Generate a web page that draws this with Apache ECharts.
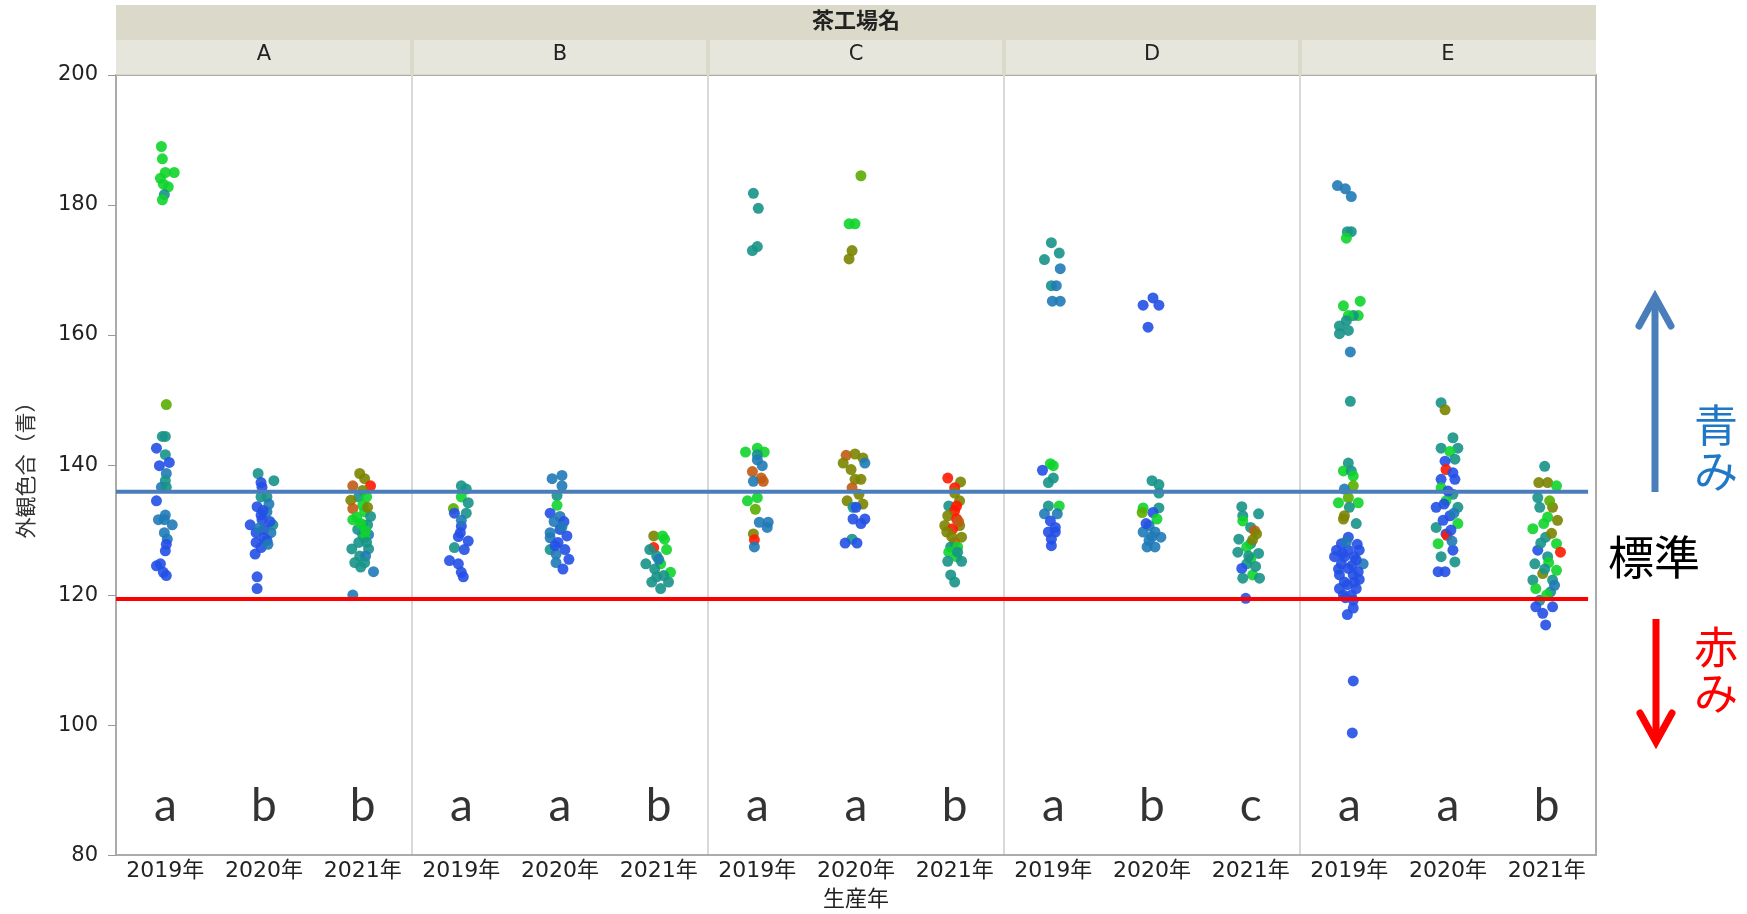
<!DOCTYPE html>
<html><head><meta charset="utf-8">
<script src="https://cdn.jsdelivr.net/npm/echarts@6/dist/echarts.min.js"></script>
<style>html,body{margin:0;padding:0;background:#fff}#c{width:1747px;height:914px}</style>
</head><body><div id="c"></div>
<script>
// ---------- data ----------
const factories = ['A','B','C','D','E'];
const years = ['2019年','2020年','2021年'];
const sigLetters = ['a','b','b','a','a','b','a','a','b','a','b','c','a','a','b'];
const yMin = 80, yMax = 200, yStep = 20;
const blueStd = 135.9, redStd = 119.4;
// colour codes (blue -> teal -> green -> olive -> red)
const B=0,S=1,T=2,G=3,Y=4,O=5,R=6,X=7;
const palette = ['#2450e6','#1f7ab6','#179488','#10d42c','#5aae00','#7c8400','#c25a12','#ff1a00'];
// each point: [jitter offset, value, colour code]
const A19 = [[-0.04,189.0,G],[-0.03,187.1,G],[0.0,185.0,G],[0.09,185.0,G],[-0.05,184.1,G],[-0.02,183.2,G],[0.03,182.8,G],[-0.01,181.6,T],[-0.03,180.8,G],
 [0.01,149.3,Y],[-0.03,144.4,T],[0.0,144.4,T],[-0.09,142.6,B],[0.0,141.6,T],[0.04,140.4,B],[-0.06,139.9,B],[0.01,138.7,S],[0.0,137.6,T],[-0.04,136.6,S],[0.01,136.6,T],
 [-0.09,134.5,B],[0.0,132.3,S],[-0.07,131.6,S],[-0.01,131.6,S],[0.07,130.8,S],[-0.01,129.6,S],[0.02,128.6,S],[0.01,127.8,B],[0.0,126.8,B],[-0.09,124.5,B],[-0.05,124.8,B],[-0.02,123.5,B],[0.01,123.0,B]];
const A20 = [[-0.06,138.7,T],[0.10,137.6,T],[-0.03,137.3,B],[-0.02,136.6,B],[-0.03,135.1,T],[0.03,135.1,T],[-0.07,133.6,B],[0.03,132.8,S],[-0.03,132.3,B],[-0.02,131.6,B],
 [-0.14,130.8,B],[0.09,130.8,T],[0.0,130.1,B],[-0.08,129.6,B],[0.07,129.6,S],[0.0,128.8,B],[-0.08,128.1,B],[-0.03,127.3,B],[-0.09,126.3,B],[-0.07,122.8,B],[-0.07,121.0,B],
 [0.05,134.0,S],[-0.01,133.0,B],[0.06,131.3,B],[-0.05,130.3,S],[0.03,128.4,B],[0.04,127.8,S]];
const A21 = [[-0.03,138.7,O],[0.02,137.9,O],[-0.10,136.8,R],[0.08,136.8,X],[0.0,136.1,O],[-0.04,135.1,T],[0.04,135.1,G],[-0.12,134.6,O],[0.0,133.8,G],[-0.10,133.3,R],
 [0.02,132.8,G],[0.08,132.1,T],[-0.10,131.6,G],[0.0,130.8,G],[0.05,130.8,T],[-0.05,130.1,T],[0.0,129.3,T],[0.06,129.3,S],[0.02,128.8,G],[-0.04,128.1,T],[0.04,128.1,T],
 [-0.11,127.1,T],[0.06,127.1,T],[-0.03,126.0,T],[0.03,126.0,S],[-0.08,125.0,T],[0.02,125.0,T],[-0.02,124.3,T],[0.11,123.6,S],[-0.10,120.0,S],
 [-0.06,132.0,G],[0.05,133.5,O],[-0.02,131.0,G],[0.03,129.9,G]];
const B19 = [[0.0,136.8,T],[0.05,136.3,T],[0.0,135.1,G],[0.07,134.2,T],[-0.08,133.3,Y],[-0.07,132.6,B],[0.05,132.6,T],[0.0,130.6,B],[-0.01,129.6,B],[0.07,128.3,B],
 [-0.07,127.3,T],[0.03,127.0,B],[-0.12,125.3,B],[-0.03,124.8,B],[0.0,123.5,B],[0.02,122.8,B],[0.0,131.5,S],[-0.03,129.0,B]];
const B20 = [[0.02,138.4,S],[-0.08,137.9,S],[0.02,136.8,S],[-0.03,135.3,T],[-0.03,133.8,G],[-0.10,132.6,B],[0.0,132.1,S],[-0.06,131.3,S],[0.04,131.3,B],[0.0,130.1,B],
 [-0.10,129.6,S],[0.07,129.1,B],[-0.10,128.8,S],[-0.02,128.1,B],[-0.10,127.0,T],[0.05,127.0,B],[-0.04,126.3,S],[0.09,125.5,B],[-0.04,125.0,S],[0.03,124.0,B],[0.02,130.5,S],[-0.05,127.6,B]];
const B21 = [[-0.05,129.1,O],[0.04,129.1,G],[0.06,128.6,G],[-0.05,127.3,X],[-0.09,127.0,T],[0.08,127.0,G],[-0.02,126.0,T],[-0.13,124.8,T],[0.02,124.8,G],[-0.04,124.0,T],
 [0.12,123.5,G],[-0.02,122.8,T],[-0.07,122.0,T],[0.10,122.0,T],[0.02,121.0,T],[0.0,125.5,S],[0.05,123.0,T]];
const C19 = [[-0.04,181.8,T],[0.01,179.5,T],[0.0,173.6,T],[-0.05,173.0,T],[0.0,142.6,G],[-0.12,142.0,G],[0.07,142.0,G],[0.0,141.6,T],[0.0,140.8,S],[0.05,139.9,S],
 [-0.05,139.0,R],[0.04,138.0,R],[-0.04,137.5,S],[0.06,137.5,R],[0.0,135.0,G],[-0.1,134.5,G],[-0.02,133.2,Y],[0.02,131.2,S],[0.11,131.2,S],[0.1,130.4,S],[-0.04,129.4,O],[-0.03,128.5,X],[-0.03,127.4,S]];
const C20 = [[0.05,184.5,Y],[-0.07,177.1,G],[-0.01,177.1,G],[-0.04,173.0,O],[-0.07,171.7,O],[-0.1,141.5,R],[-0.01,141.7,O],[0.07,141.1,O],[-0.13,140.3,O],[0.09,140.3,S],
 [-0.05,139.3,O],[-0.01,137.8,O],[0.05,137.8,O],[-0.04,136.5,R],[0.03,135.5,O],[-0.09,134.5,O],[0.07,134.0,O],[-0.03,133.5,T],[0.0,133.5,B],[-0.03,131.7,B],[0.09,131.7,B],
 [0.05,131.0,B],[-0.04,128.6,T],[-0.11,128.0,B],[0.01,128.0,B]];
const C21 = [[-0.07,138.0,X],[0.06,137.4,O],[0.0,136.5,X],[0.0,135.7,O],[0.05,134.5,O],[-0.06,133.7,T],[0.02,133.7,X],[0.0,133.0,X],[-0.07,132.2,O],[0.02,131.7,X],
 [-0.1,130.7,O],[0.05,130.7,O],[-0.02,130.2,X],[-0.08,129.7,O],[0.07,128.9,O],[0.0,128.1,R],[-0.04,127.4,T],[0.03,127.4,G],[-0.06,126.6,G],[0.02,125.9,G],[-0.07,125.2,T],
 [0.07,125.2,T],[-0.04,123.1,T],[0.0,122.0,T],[0.04,131.3,R],[-0.03,129.0,O],[0.03,126.6,T]];
const D19 = [[-0.02,174.2,T],[0.06,172.6,T],[-0.09,171.6,T],[0.07,170.2,S],[-0.02,167.6,T],[0.03,167.6,S],[-0.01,165.2,S],[0.07,165.2,S],[-0.03,140.2,G],[0.0,139.9,G],
 [-0.11,139.2,B],[0.0,138.0,T],[-0.05,137.3,T],[-0.05,133.7,T],[0.06,133.7,G],[-0.09,132.5,S],[0.04,132.5,S],[-0.03,131.4,B],[0.02,130.4,B],[-0.05,129.7,B],[0.02,129.7,B],
 [-0.02,128.6,B],[-0.02,127.6,B]];
const D20 = [[0.01,165.7,B],[-0.09,164.6,B],[0.07,164.6,B],[-0.04,161.2,B],[0.0,137.6,T],[0.07,137.0,T],[0.07,135.7,T],[-0.09,133.4,G],[0.07,133.4,T],[-0.1,132.7,Y],
 [0.01,132.7,B],[0.05,131.7,G],[-0.03,130.7,S],[-0.09,129.7,S],[0.03,129.7,S],[0.09,128.9,S],[-0.03,128.4,S],[-0.05,127.4,S],[0.03,127.4,S],[0.0,129.0,S],[-0.06,131.0,B]];
const D21 = [[-0.09,133.6,T],[0.08,132.5,T],[-0.08,132.2,T],[-0.08,131.4,G],[0.0,130.4,T],[0.04,129.9,R],[0.06,129.4,O],[-0.12,128.6,T],[0.0,127.9,T],[-0.04,127.4,G],
 [-0.13,126.6,T],[0.08,126.4,T],[0.0,125.6,G],[-0.04,124.8,T],[-0.09,124.1,B],[0.02,123.1,G],[-0.08,122.6,T],[0.09,122.6,T],[-0.05,119.5,B],[0.02,128.5,O],[-0.02,126.0,T],[0.05,124.4,T]];
const E19 = [[-0.12,183.0,S],[-0.04,182.5,S],[0.02,181.3,S],[0.02,175.9,T],[-0.02,175.9,T],[-0.03,174.9,G],
 [0.11,165.2,G],[-0.06,164.5,G],[0.09,163.0,G],[0.04,163.0,T],[-0.01,163.0,G],[-0.03,162.2,T],[-0.1,161.4,T],[-0.01,160.7,T],[-0.1,160.2,T],[0.01,157.4,S],[0.01,149.8,T],
 [-0.01,140.3,T],[-0.06,139.1,G],[0.02,139.1,T],[0.04,138.3,G],[0.04,136.8,Y],[-0.05,136.3,S],[-0.01,135.0,Y],[-0.11,134.2,G],[0.09,134.2,G],[0.0,133.5,T],[-0.05,132.2,O],
 [-0.06,131.7,O],[0.07,131.0,T],[-0.01,128.9,B],[-0.08,127.9,B],[-0.13,126.9,B],[-0.01,126.9,B],[0.1,126.9,B],[-0.15,125.9,B],[-0.05,125.9,B],[0.05,125.9,B],[-0.08,124.8,B],
 [0.14,124.8,S],[-0.01,124.1,B],[-0.1,123.1,B],[0.04,123.1,B],[-0.05,122.0,B],[0.05,122.0,B],[-0.1,121.0,B],[0.07,121.0,B],[-0.06,120.0,B],[0.02,120.0,B],[0.04,119.2,B],
 [0.04,118.0,B],[-0.02,117.0,B],[0.04,106.8,B],[0.03,98.8,B],[0.08,127.8,B],[-0.03,128.2,S],
 [-0.07,126.4,B],[0.03,124.6,B],[-0.11,124.0,B],[0.09,123.6,B],[-0.02,121.6,B],[0.1,122.4,B],[-0.04,119.6,B],[0.07,125.4,B]];
const E20 = [[-0.07,149.6,T],[-0.03,148.5,O],[0.05,144.2,T],[-0.07,142.6,T],[0.1,142.6,T],[0.02,142.1,G],[0.07,140.9,T],[-0.03,140.6,B],[-0.02,139.3,X],[0.05,138.8,B],
 [-0.07,137.8,B],[0.07,137.8,B],[-0.07,136.5,G],[0.05,135.5,T],[-0.02,134.5,G],[-0.12,133.5,B],[0.1,133.5,T],[0.02,132.2,B],[0.1,131.0,G],[-0.12,130.4,T],[-0.02,129.4,B],
 [-0.01,129.2,X],[-0.1,127.9,G],[0.05,126.9,B],[-0.07,125.9,T],[0.07,125.1,T],[-0.1,123.6,B],[-0.03,123.6,B],
 [0.0,136.0,B],[0.03,130.0,B],[-0.05,131.5,B],[0.04,128.3,S],[-0.04,134.0,B],[0.06,132.6,S]];
const E21 = [[-0.02,139.8,T],[-0.08,137.3,O],[0.01,137.3,O],[0.1,136.8,G],[-0.09,135.0,T],[-0.07,133.5,T],[0.06,133.5,O],[0.01,132.0,G],[0.11,131.5,O],[-0.14,130.2,G],
 [-0.01,128.9,T],[0.1,127.9,G],[-0.09,126.9,B],[0.14,126.6,X],[0.01,125.9,T],[-0.12,124.8,T],[0.1,123.8,G],[-0.04,123.3,O],[-0.14,122.3,T],[0.06,122.3,T],[-0.11,121.0,G],
 [0.04,120.5,T],[-0.07,119.2,T],[-0.11,118.2,B],[0.06,118.2,B],[-0.04,117.2,B],[-0.01,115.4,B],
 [0.03,134.5,Y],[-0.03,131.0,G],[0.05,129.5,O],[-0.06,128.0,T],[0.02,125.0,G],[0.08,121.5,S],[-0.02,124.0,T],[0.0,120.0,G]];
const groups = [A19,A20,A21,B19,B20,B21,C19,C20,C21,D19,D20,D21,E19,E20,E21];

// ---------- build ----------
const cats = [];
factories.forEach(() => years.forEach(y => cats.push(y)));
const points = [];
groups.forEach((g, i) => g.forEach(p => points.push([i + 0.5 + p[0], p[1], p[2]])));
const nCat = cats.length;
const lineEnd = nCat - 0.08;

const GL = 116, GR = 151, GT = 75, GB = 51;
const numFont = "'DejaVu Sans','Noto Sans CJK JP',sans-serif";
const cjkFont = "'Noto Sans CJK JP',sans-serif";

const option = {
  animation: false,
  backgroundColor: '#fff',
  grid: {left: GL, right: GR, top: GT, bottom: GB, show: true, borderColor: '#ababab', borderWidth: 2, backgroundColor: 'transparent'},
  xAxis: [
    {type: 'category', data: cats, position: 'bottom', boundaryGap: true,
     axisLine: {lineStyle: {color: '#ababab', width: 2}}, axisTick: {show: false},
     axisLabel: {fontSize: 22, color: '#222', margin: 5, fontFamily: numFont, interval: 0},
     name: '生産年', nameLocation: 'middle', nameGap: 26,
     nameTextStyle: {fontSize: 22, color: '#222', fontFamily: cjkFont},
     splitLine: {show: false}},
    {type: 'value', min: 0, max: nCat, interval: 3, position: 'bottom',
     axisLine: {show: false}, axisTick: {show: false}, axisLabel: {show: false},
     splitLine: {show: true, showMinLine: false, showMaxLine: false, lineStyle: {color: '#d9d9d9', width: 2}}}
  ],
  yAxis: {type: 'value', min: yMin, max: yMax, interval: yStep,
    axisLine: {show: true, lineStyle: {color: '#ababab', width: 2}},
    axisTick: {show: true, length: 8, lineStyle: {color: '#999'}},
    axisLabel: {fontSize: 21, color: '#222', margin: 18, fontFamily: numFont},
    splitLine: {show: false},
    name: '外観色合（青）', nameLocation: 'middle', nameGap: 80,
    nameTextStyle: {fontSize: 21, color: '#333', fontFamily: cjkFont}},
  series: [
    {type: 'scatter', xAxisIndex: 1, data: points, symbolSize: 11, z: 2,
     itemStyle: {opacity: 0.9, color: p => palette[p.data[2]]}},
    {type: 'line', xAxisIndex: 1, data: [[0, blueStd], [lineEnd, blueStd]], symbol: 'none', silent: true, z: 5,
     lineStyle: {color: '#4a7ebb', width: 4}},
    {type: 'line', xAxisIndex: 1, data: [[0, redStd], [lineEnd, redStd]], symbol: 'none', silent: true, z: 5,
     lineStyle: {color: '#ff0000', width: 4}},
    {type: 'scatter', xAxisIndex: 1, symbolSize: 0.1, z: 6, silent: true,
     itemStyle: {color: 'transparent'},
     data: sigLetters.map((l, i) => ({name: l, value: [i + 0.5, 87.5]})),
     label: {show: true, position: 'inside', formatter: '{b}', fontSize: 46, lineHeight: 46,
       color: '#000', fontFamily: "Lato,'Open Sans',sans-serif"}}
  ]
};

const chart = echarts.init(document.getElementById('c'), null, {renderer: 'canvas'});
chart.setOption(option);

// header strips and side annotations
const px = v => chart.convertToPixel({xAxisIndex: 1}, v);
const left = px(0), right = px(nCat);
const gfx = [];
gfx.push({type: 'rect', shape: {x: left, y: 5, width: right - left, height: GT - 5}, style: {fill: '#dbd9c9'}, z: 10});
gfx.push({type: 'text', x: (left + right) / 2, y: 20, z: 11,
  style: {text: '茶工場名', font: "bold 22px 'Noto Sans CJK JP'", fill: '#222', textAlign: 'center', textVerticalAlign: 'middle'}});
factories.forEach((f, i) => {
  const x0 = px(i * 3), x1 = px(i * 3 + 3);
  const a = i === 0 ? x0 : x0 + 2, b = i === factories.length - 1 ? x1 : x1 - 2;
  gfx.push({type: 'rect', shape: {x: a, y: 40, width: b - a, height: GT - 41}, style: {fill: '#e7e6dd'}, z: 10});
  gfx.push({type: 'text', x: (x0 + x1) / 2, y: 55, z: 11,
    style: {text: f, font: "21px 'DejaVu Sans'", fill: '#222', textAlign: 'center', textVerticalAlign: 'middle'}});
});
// arrows
gfx.push({type: 'polyline', shape: {points: [[1655, 492], [1655, 300]]}, style: {stroke: '#4a7ebb', lineWidth: 7, fill: null}, z: 10});
gfx.push({type: 'polyline', shape: {points: [[1639, 326], [1655, 297], [1671, 326]]}, style: {stroke: '#4a7ebb', lineWidth: 7, fill: null, lineJoin: 'miter', lineCap: 'round'}, z: 10});
gfx.push({type: 'polyline', shape: {points: [[1656, 619], [1656, 738]]}, style: {stroke: '#ff0000', lineWidth: 7, fill: null}, z: 10});
gfx.push({type: 'polyline', shape: {points: [[1640, 713], [1656, 742], [1672, 713]]}, style: {stroke: '#ff0000', lineWidth: 7, fill: null, lineJoin: 'miter', lineCap: 'round'}, z: 10});
gfx.push({type: 'text', x: 1716, y: 448, z: 11,
  style: {text: '青\nみ', font: "44px 'Noto Sans CJK JP'", lineHeight: 46, fill: '#1f78c6', textAlign: 'center', textVerticalAlign: 'middle'}});
gfx.push({type: 'text', x: 1716, y: 670, z: 11,
  style: {text: '赤\nみ', font: "44px 'Noto Sans CJK JP'", lineHeight: 46, fill: '#ff0000', textAlign: 'center', textVerticalAlign: 'middle'}});
gfx.push({type: 'text', x: 1654, y: 557, z: 11,
  style: {text: '標準', font: "46px 'Noto Sans CJK JP'", fill: '#000', textAlign: 'center', textVerticalAlign: 'middle'}});
chart.setOption({graphic: gfx});
</script>
</body></html>
